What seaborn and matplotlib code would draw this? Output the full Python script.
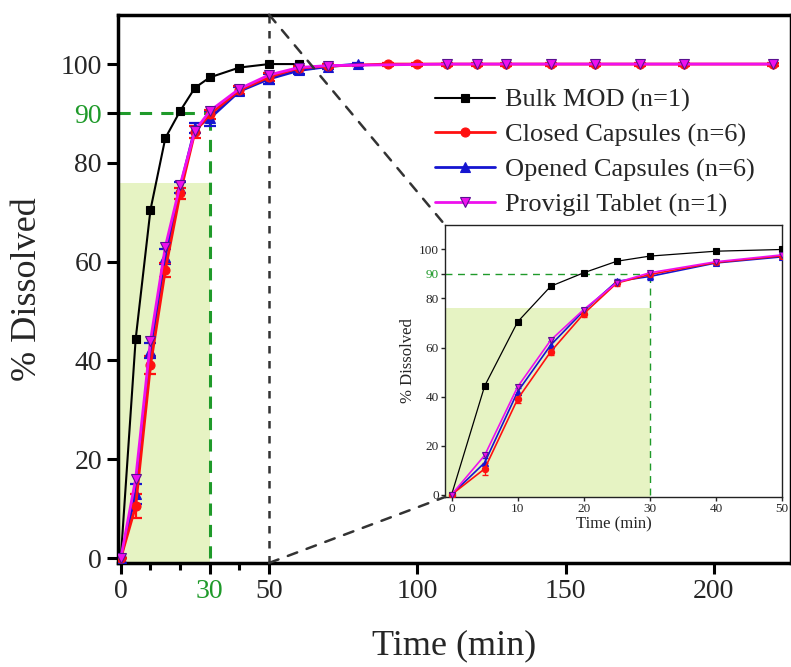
import matplotlib
matplotlib.use("Agg")
import matplotlib.pyplot as plt
from matplotlib.patches import ConnectionPatch
import seaborn as sns

sns.set_theme(style="ticks")
plt.rcParams['font.family'] = ['Liberation Serif', 'DejaVu Serif']

# Data
bulk_t = [0, 5, 10, 15, 20, 25, 30, 40, 50, 60]
bulk = [0, 44.3, 70.5, 85, 90.5, 95.2, 97.3, 99.3, 100, 100]

closed_t = [0, 5, 10, 15, 20, 25, 30, 40, 50, 60, 70, 90, 100, 110, 120, 130, 145, 160, 175, 190, 220]
closed = [0, 10.5, 39, 58.3, 73.8, 86.3, 89.8, 94.7, 97.4, 99.2, 99.6, 100, 100, 100, 100, 100, 100, 100, 100, 100, 100]
closed_err = [0, 2.5, 1.8, 1.5, 1.2, 1.2, 1.0, 0.8, 0.8, 0.5, 0.4, 0.3, 0.3, 0.3, 0.3, 0.3, 0.3, 0.3, 0.3, 0.3, 0.3]

opened_t = [0, 5, 10, 15, 20, 25, 30, 40, 50, 60, 70, 80]
opened = [0, 13, 42, 61, 75, 87, 89, 94.5, 97, 98.7, 99.5, 100]
opened_err = [0, 2.0, 1.5, 1.5, 1.2, 1.0, 1.5, 0.8, 1.0, 0.8, 0.5, 0.3]

prov_t = [0, 5, 10, 15, 20, 25, 30, 40, 50, 60, 70, 110, 120, 130, 145, 160, 175, 190, 220]
prov = [0, 16, 44, 63, 75.5, 86.5, 90.5, 95, 97.8, 99.3, 99.7, 100, 100, 100, 100, 100, 100, 100, 100]

labels = ["Bulk MOD (n=1)", "Closed Capsules (n=6)", "Opened Capsules (n=6)", "Provigil Tablet (n=1)"]
colors = ["black", "#ff1010", "#1515d0", "#ee10ee"]
edge_colors = ["black", "#ff1010", "#1515d0", "#5a1090"]
markers = ["s", "o", "^", "v"]

GREEN = "#1f9a2a"
SHADE = "#e6f3c3"
target_t, target_pct, shade_top = 30, 90, 76

series = [
    (bulk_t, bulk, None),
    (closed_t, closed, closed_err),
    (opened_t, opened, opened_err),
    (prov_t, prov, None),
]
draw_order = [0, 2, 1, 3]


def draw_series(ax, ms, lw, cap, xmax):
    for i in draw_order:
        t, y, err = series[i]
        pts = [(a, b, (err[k] if err else 0)) for k, (a, b) in enumerate(zip(t, y)) if a <= xmax]
        tt = [p[0] for p in pts]
        yy = [p[1] for p in pts]
        if err:
            ax.errorbar(tt, yy, yerr=[p[2] for p in pts], fmt="none", ecolor=colors[i],
                        elinewidth=lw * 0.8, capsize=cap, capthick=lw * 0.8, zorder=3)
        sns.lineplot(x=tt, y=yy, ax=ax, color=colors[i], marker=markers[i],
                     markersize=ms * (0.85 if i == 0 else 1.0),
                     linewidth=lw * (0.75 if i == 0 else 1.0),
                     label=labels[i], zorder=4, estimator=None, sort=False)
        line = ax.lines[-1]
        line.set_markerfacecolor(colors[i])
        line.set_markeredgecolor(edge_colors[i])
        line.set_markeredgewidth(0.8)


fig = plt.figure(figsize=(7.91, 6.67), dpi=100)
ax = fig.add_axes([0.149, 0.156, 0.851, 0.822])

ax.axvspan(-1, target_t, ymin=0, ymax=(shade_top + 1) / 111, color=SHADE, lw=0, zorder=0)
ax.plot([-1, target_t], [target_pct, target_pct], ls=(0, (4, 3)), color=GREEN, lw=2.2, zorder=1)
ax.plot([target_t, target_t], [0, target_pct], ls=(0, (4, 3)), color=GREEN, lw=2.2, zorder=1)
ax.plot([50, 50], [-1, 110], ls=(0, (3, 3)), color="#333333", lw=1.8, zorder=1)

draw_series(ax, ms=6.5, lw=2.0, cap=4, xmax=1000)

ax.set_xlim(-1, 226)
ax.set_ylim(-1, 110)
ax.set_xticks([0, 30, 50, 100, 150, 200])
ax.set_xticks([10, 20, 40], minor=True)
ax.set_yticks([0, 20, 40, 60, 80, 90, 100])
ax.tick_params(axis="both", which="major", direction="out", length=8, width=2.2,
               labelsize=20, color="black")
ax.tick_params(axis="x", which="minor", direction="out", length=5, width=2.2, color="black")
ax.get_xticklabels()[1].set_color(GREEN)
ax.xaxis.get_major_ticks()[1].tick1line.set_color(GREEN)
ax.get_yticklabels()[5].set_color(GREEN)
ax.yaxis.get_major_ticks()[5].tick1line.set_color(GREEN)
for s in ax.spines.values():
    s.set_linewidth(2.5)
    s.set_color("black")
ax.set_xlabel("Time (min)", fontsize=26, labelpad=18)
ax.set_ylabel("% Dissolved", fontsize=26, labelpad=12)

handles, labs = ax.get_legend_handles_labels()
order = [labs.index(l) for l in labels]
leg = ax.legend([handles[k] for k in order], [labs[k] for k in order],
                loc="upper left", bbox_to_anchor=(0.455, 0.885), frameon=False, fontsize=19,
                handlelength=2.3, handletextpad=0.35, labelspacing=0.42, borderaxespad=0)
for h, c, ec in zip(leg.legend_handles, colors, edge_colors):
    h.set_markerfacecolor(c)
    h.set_markeredgecolor(ec)

# inset
ins = fig.add_axes([0.5626, 0.2549, 0.426, 0.4078])
ins.set_facecolor("white")
ins.axvspan(-1, target_t, ymin=0, ymax=(shade_top + 1) / 111, color=SHADE, lw=0, zorder=0)
ins.plot([-1, target_t], [target_pct, target_pct], ls=(0, (5, 4)), color=GREEN, lw=1.0, zorder=1)
ins.plot([target_t, target_t], [0, target_pct], ls=(0, (5, 4)), color=GREEN, lw=1.0, zorder=1)
draw_series(ins, ms=4.5, lw=1.2, cap=2, xmax=50)
if ins.get_legend():
    ins.get_legend().remove()
ins.set_xlim(-1, 50)
ins.set_ylim(-1, 110)
ins.set_xticks([0, 10, 20, 30, 40, 50])
ins.set_yticks([0, 20, 40, 60, 80, 90, 100])
ins.tick_params(axis="both", direction="out", length=3, width=1, labelsize=9.5, pad=1.5)
ins.get_yticklabels()[5].set_color(GREEN)
for s in ins.spines.values():
    s.set_linewidth(1.0)
    s.set_color("#222222")
ins.set_xlabel("Time (min)", fontsize=12, labelpad=1)
ins.set_ylabel("% Dissolved", fontsize=12, labelpad=2)

for yfrom, yto in [(110, 1), (-1, 0)]:
    con = ConnectionPatch(xyA=(50, yfrom), coordsA=ax.transData, xyB=(0, yto),
                          coordsB=ins.transAxes, ls=(0, (4, 4)), color="#333333", lw=1.8)
    fig.add_artist(con)

fig.savefig("out.png", dpi=100)
